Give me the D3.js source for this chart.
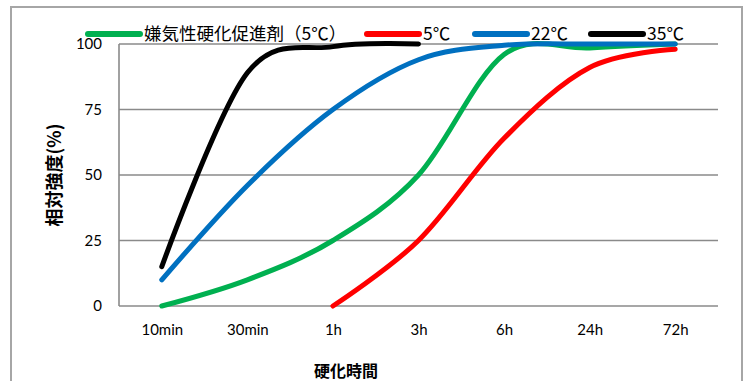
<!DOCTYPE html>
<html>
<head>
<meta charset="utf-8">
<script src="https://cdn.jsdelivr.net/npm/d3@7"></script>
<style>
  html, body { margin: 0; padding: 0; background: #fff; }
  svg { display: block; }
</style>
</head>
<body>
<svg id="chart" width="749" height="381"></svg>
<script>
// Curing time categories and tick values
const categories = ["10min", "30min", "1h", "3h", "6h", "24h", "72h"];
const yTicks = [0, 25, 50, 75, 100];

// Relative strength (%) for each condition; null = not measured
const accel5 = [0, 10, 25, 50, 96, 98.5, 100];
const temp5  = [null, null, 0, 25, 64, 91, 98];
const temp22 = [10, 46, 75, 94, 99.5, 100, 100];
const temp35 = [15, 89, 99, 100, null, null, null];

const seriesNames  = ["嫌気性硬化促進剤（5℃）", "5℃", "22℃", "35℃"];
const seriesValues = [accel5, temp5, temp22, temp35];
const seriesColors = ["#00b050", "#ff0000", "#0070c0", "#000000"];

// Legend entry start positions
const legendStarts = [88, 367, 475, 591];

const plot = { left: 119, right: 718, top: 44, bottom: 306 };

const svg = d3.select("#chart");

// Outer chart frame
svg.append("rect")
  .attr("x", 11).attr("y", 7)
  .attr("width", 731).attr("height", 385)
  .attr("fill", "none")
  .attr("stroke", "#a6a6a6")
  .attr("stroke-width", 2);

const x = d3.scalePoint().domain(categories).range([plot.left, plot.right]).padding(0.5);
const y = d3.scaleLinear().domain([0, 100]).range([plot.bottom, plot.top]);

// Horizontal gridlines
svg.append("g")
  .selectAll("line")
  .data(yTicks)
  .join("line")
  .attr("x1", plot.left).attr("x2", plot.right)
  .attr("y1", d => y(d)).attr("y2", d => y(d))
  .attr("stroke", "#8a8a8a")
  .attr("stroke-width", 1.6);

// Left axis line
svg.append("line")
  .attr("x1", plot.left).attr("x2", plot.left)
  .attr("y1", y(100)).attr("y2", y(0))
  .attr("stroke", "#8a8a8a")
  .attr("stroke-width", 1.6);

// Y axis
const yAxis = svg.append("g")
  .attr("transform", `translate(${plot.left},0)`)
  .call(d3.axisLeft(y).tickValues(yTicks).tickSize(0).tickPadding(17));
yAxis.select(".domain").remove();
yAxis.selectAll("text")
  .attr("font-family", "Lato, 'Open Sans', sans-serif")
  .attr("font-size", 15)
  .attr("fill", "#000");

// X axis labels
const xAxis = svg.append("g")
  .attr("transform", `translate(0,${plot.bottom})`)
  .call(d3.axisBottom(x).tickSize(0).tickPadding(18));
xAxis.select(".domain").remove();
xAxis.selectAll("text")
  .attr("font-family", "Lato, 'Open Sans', sans-serif")
  .attr("font-size", 15)
  .attr("fill", "#000");

// Series lines
const line = d3.line()
  .x(d => x(d.cat))
  .y(d => y(d.v))
  .curve(d3.curveCardinal.tension(0));

seriesValues.forEach((vals, i) => {
  const pts = categories.map((c, j) => ({ cat: c, v: vals[j] })).filter(p => p.v !== null);
  svg.append("path")
    .datum(pts)
    .attr("d", line)
    .attr("fill", "none")
    .attr("stroke", seriesColors[i])
    .attr("stroke-width", 5)
    .attr("stroke-linecap", "round")
    .attr("stroke-linejoin", "round");
});

// Legend
const legend = svg.append("g").attr("transform", "translate(0,34)");
seriesNames.forEach((name, i) => {
  const lx = legendStarts[i];
  const g = legend.append("g");
  g.append("line")
    .attr("x1", lx).attr("x2", lx + 52)
    .attr("y1", 0).attr("y2", 0)
    .attr("stroke", seriesColors[i])
    .attr("stroke-width", 6)
    .attr("stroke-linecap", "round");
  g.append("text")
    .attr("x", lx + 56)
    .attr("y", 6)
    .attr("font-family", "'Noto Sans CJK JP', Lato, sans-serif")
    .attr("font-size", 17.5)
    .attr("fill", "#000")
    .text(name);
});

// Axis titles
svg.append("text")
  .attr("transform", `translate(61,${(plot.top + plot.bottom) / 2}) rotate(-90)`)
  .attr("text-anchor", "middle")
  .attr("font-family", "'Noto Sans CJK JP', sans-serif")
  .attr("font-weight", "bold")
  .attr("font-size", 18)
  .attr("fill", "#000")
  .text("相対強度(%)");

svg.append("text")
  .attr("x", 346)
  .attr("y", 377)
  .attr("text-anchor", "middle")
  .attr("font-family", "'Noto Sans CJK JP', sans-serif")
  .attr("font-weight", "bold")
  .attr("font-size", 16)
  .attr("fill", "#000")
  .text("硬化時間");
</script>
</body>
</html>
